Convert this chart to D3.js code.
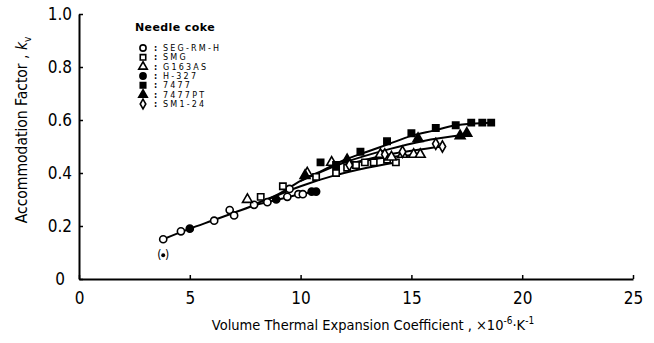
<!DOCTYPE html>
<html>
<head>
<meta charset="utf-8">
<script src="https://cdn.jsdelivr.net/npm/d3@7"></script>
<style>
  body { margin: 0; background: #fff; }
  svg { display: block; }
  text { font-family: "Liberation Sans Narrow", "DejaVu Sans Condensed", "Liberation Sans", sans-serif; fill: #000; }
  .leg { font-family: "DejaVu Sans", sans-serif; }
</style>
</head>
<body>
<svg width="654" height="343"></svg>
<script>

// tick labels
var xTicks = [0, 5, 10, 15, 20, 25];
var yTicks = [0, 0.2, 0.4, 0.6, 0.8, 1.0];
var yTickLabels = ["0", "0.2", "0.4", "0.6", "0.8", "1.0"];

// legend entries
var seriesNames = ["SEG-RM-H", "SMG", "G163AS", "H-327", "7477", "7477PT", "SM1-24"];

// measured points, [expansion coefficient, accommodation factor]
var segRmH = [[3.8, 0.15], [4.6, 0.18], [6.1, 0.22], [6.8, 0.26], [7.0, 0.24], [7.9, 0.28], [8.5, 0.29], [9.4, 0.31], [9.5, 0.34], [9.9, 0.32], [10.1, 0.32]];
var smg = [[8.2, 0.31], [9.2, 0.35], [10.7, 0.385], [11.6, 0.40], [12.1, 0.42], [12.5, 0.43], [12.9, 0.44], [13.3, 0.44], [13.9, 0.45], [14.3, 0.44]];
var g163as = [[7.6, 0.30], [10.3, 0.40], [11.4, 0.44], [13.6, 0.47], [14.1, 0.46], [14.6, 0.47], [15.1, 0.47], [15.4, 0.47]];
var h327 = [[5.0, 0.19], [8.9, 0.30], [10.5, 0.33], [10.7, 0.33]];
var s7477 = [[10.9, 0.44], [11.6, 0.43], [12.7, 0.48], [13.9, 0.52], [15.0, 0.55], [16.1, 0.57], [17.0, 0.58], [17.7, 0.59], [18.2, 0.59], [18.6, 0.59]];
var s7477pt = [[10.2, 0.39], [12.1, 0.45], [15.3, 0.53], [17.2, 0.54], [17.5, 0.55]];
var sm124 = [[12.2, 0.43], [13.8, 0.47], [14.6, 0.48], [16.1, 0.51], [16.4, 0.50]];

// excluded point shown in brackets
var excluded = [[3.8, 0.09]];

// fitted curves drawn through the groups
var fitLow = [[3.8, 0.15], [5, 0.19], [6, 0.22], [7, 0.25], [8, 0.28], [9, 0.30], [10, 0.32], [10.7, 0.33]];
var fit7477 = [[8, 0.285], [9, 0.32], [10, 0.37], [11, 0.41], [12, 0.45], [13, 0.48], [14, 0.51], [15, 0.54], [16, 0.56], [17, 0.58], [18.6, 0.59]];
var fit7477pt = [[10, 0.37], [12, 0.44], [14, 0.49], [15.5, 0.52], [17.5, 0.545]];
var fitSm124 = [[12, 0.43], [14, 0.47], [16.4, 0.50]];
var fitG163 = [[12, 0.43], [13.5, 0.455], [15.4, 0.47]];
var fitSmg = [[8.5, 0.30], [10, 0.35], [11.5, 0.39], [13, 0.42], [14.3, 0.44]];

window.onload = function() {
    makeChart();
}

function makeChart() {

    var svg = d3.select("svg");

    // plot area in pixels
    var left = 79, right = 633, top = 14, bottom = 279;

    var x = d3.scaleLinear().domain([0, 25]).range([left, right]);
    var y = d3.scaleLinear().domain([0, 1]).range([bottom, top]);

    // axes
    svg.append("g")
        .attr("transform", "translate(0," + bottom + ")")
        .call(d3.axisBottom(x).tickValues(xTicks).tickSize(-4).tickSizeOuter(0).tickPadding(13));

    var yAxis = svg.append("g")
        .attr("transform", "translate(" + left + ",0)")
        .call(d3.axisLeft(y).tickValues(yTicks).tickSize(-4).tickSizeOuter(0).tickPadding(7)
            .tickFormat(function(d, i) { return yTickLabels[i]; }));

    // the zero label sits a little further left
    yAxis.selectAll(".tick text").filter(function(d) { return d === 0; }).attr("dx", -7);

    svg.selectAll(".domain").attr("stroke", "#000").attr("stroke-width", 2);
    svg.selectAll(".tick line").attr("stroke", "#000").attr("stroke-width", 1.5);
    svg.selectAll(".tick text").attr("font-size", 17)
        .style("font-family", "'Liberation Sans Narrow', 'DejaVu Sans Condensed', sans-serif");

    // axis titles
    var xt = svg.append("text")
        .attr("x", 373)
        .attr("y", 330)
        .attr("text-anchor", "middle")
        .attr("font-size", 14.5);
    xt.append("tspan").text("Volume Thermal Expansion Coefficient ,    \u00d710");
    xt.append("tspan").attr("dy", -6).attr("font-size", 10).text("-6");
    xt.append("tspan").attr("dy", 6).text("\u00b7K");
    xt.append("tspan").attr("dy", -6).attr("font-size", 10).text("-1");

    var yt = svg.append("text")
        .attr("transform", "translate(27,130) rotate(-90)")
        .attr("text-anchor", "middle")
        .attr("font-size", 15.5);
    yt.append("tspan").text("Accommodation Factor , ");
    yt.append("tspan").attr("font-style", "italic").text("k");
    yt.append("tspan").attr("dy", 4).attr("font-size", 10).text("v");

    // fitted lines
    var line = d3.line()
        .x(function(d) { return x(d[0]); })
        .y(function(d) { return y(d[1]); })
        .curve(d3.curveMonotoneX);

    [fitLow, fit7477, fit7477pt, fitSm124, fitG163, fitSmg].forEach(function(f) {
        svg.append("path")
            .attr("d", line(f))
            .attr("fill", "none")
            .attr("stroke", "#000")
            .attr("stroke-width", 2);
    });

    // markers
    var series = [
        { data: segRmH, shape: d3.symbolCircle, size: 40, filled: false },
        { data: smg, shape: d3.symbolSquare, size: 40, filled: false },
        { data: g163as, shape: d3.symbolTriangle, size: 42, filled: false },
        { data: h327, shape: d3.symbolCircle, size: 40, filled: true },
        { data: s7477, shape: d3.symbolSquare, size: 40, filled: true },
        { data: s7477pt, shape: d3.symbolTriangle, size: 42, filled: true },
        { data: sm124, shape: d3.symbolDiamond, size: 36, filled: false }
    ];

    series.forEach(function(s) {
        svg.append("g").selectAll("path")
            .data(s.data)
            .enter().append("path")
            .attr("transform", function(d) { return "translate(" + x(d[0]) + "," + y(d[1]) + ")"; })
            .attr("d", d3.symbol().type(s.shape).size(s.size))
            .attr("fill", s.filled ? "#000" : "#fff")
            .attr("stroke", "#000")
            .attr("stroke-width", 1.6);
    });

    // bracketed excluded point
    excluded.forEach(function(d) {
        svg.append("circle")
            .attr("cx", x(d[0]))
            .attr("cy", y(d[1]))
            .attr("r", 2)
            .attr("fill", "#000");
        svg.append("text")
            .attr("x", x(d[0]))
            .attr("y", y(d[1]) + 4)
            .attr("text-anchor", "middle")
            .attr("font-size", 12)
            .text("(   )");
    });

    // legend
    svg.append("text")
        .attr("class", "leg")
        .attr("x", 135)
        .attr("y", 31)
        .attr("font-size", 11)
        .attr("font-weight", "bold")
        .attr("letter-spacing", 0.4)
        .text("Needle coke");

    var rowY = d3.scaleLinear().domain([0, 6]).range([48, 104]);

    var leg = svg.append("g").selectAll("g")
        .data(series)
        .enter().append("g")
        .attr("transform", function(d, i) { return "translate(143," + rowY(i) + ")"; });

    leg.append("path")
        .attr("d", function(d) { return d3.symbol().type(d.shape).size(d.size * 0.75)(); })
        .attr("fill", function(d) { return d.filled ? "#000" : "#fff"; })
        .attr("stroke", "#000")
        .attr("stroke-width", 1.6);

    leg.append("text")
        .attr("class", "leg")
        .attr("x", 11)
        .attr("y", 3)
        .attr("font-size", 8)
        .attr("font-weight", "bold")
        .text(":");

    leg.append("text")
        .attr("class", "leg")
        .attr("x", 20)
        .attr("y", 3)
        .attr("font-size", 8)
        .attr("letter-spacing", 2.2)
        .text(function(d, i) { return seriesNames[i]; });
}
</script>
</body>
</html>
